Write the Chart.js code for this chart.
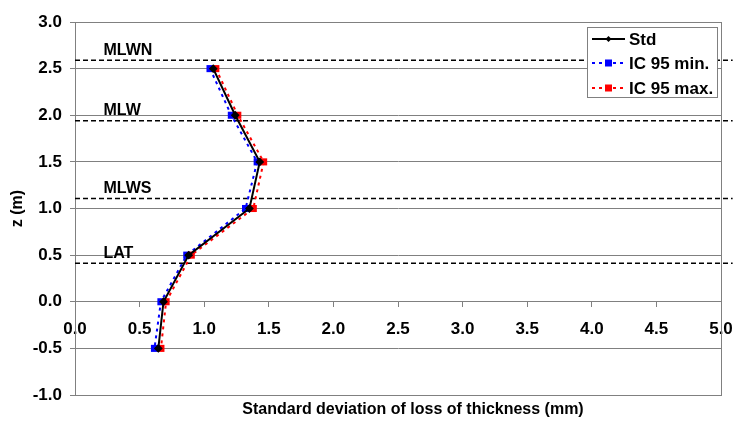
<!DOCTYPE html>
<html>
<head>
<meta charset="utf-8">
<script src="https://cdn.jsdelivr.net/npm/chart.js@4"></script>
<style>
  html, body { margin: 0; padding: 0; background: #fff; }
  #wrap { width: 733px; height: 432px; }
</style>
</head>
<body>
<div id="wrap"><canvas id="chart" width="733" height="432"></canvas></div>
<script>
// depth levels (m) and std deviation of loss of thickness (mm)
const zLevels = [2.5, 2.0, 1.5, 1.0, 0.5, 0.0, -0.5];
const stdValues = [1.07, 1.24, 1.43, 1.35, 0.88, 0.685, 0.645];
const icMinValues = [1.045, 1.21, 1.41, 1.32, 0.865, 0.665, 0.615];
const icMaxValues = [1.09, 1.26, 1.46, 1.38, 0.90, 0.705, 0.665];

// tide levels
const tideNames = ['MLWN', 'MLW', 'MLWS', 'LAT'];
const tideLevels = [2.59, 1.94, 1.107, 0.414];
const tideLineX = [0, 5.09];

const xTitle = 'Standard deviation of loss of thickness (mm)';

const FONT = '"Liberation Sans", Arial, sans-serif';
const GRAY = '#808080';

function pts(xs) {
  return xs.map((x, i) => ({ x: x, y: zLevels[i] }));
}

const tideSets = tideLevels.map((lv, i) => ({
  label: tideNames[i],
  data: tideLineX.map(x => ({ x: x, y: lv })),
  showLine: true,
  borderColor: '#000',
  borderWidth: 1.5,
  borderDash: [5, 3],
  pointRadius: 0,
  clip: false
}));

// text labels for tide lines, x title, legend box
const extras = {
  id: 'extras',
  afterDatasetsDraw(chart) {
    const ctx = chart.ctx;
    const xs = chart.scales.x, ys = chart.scales.y;
    const a = chart.chartArea;
    ctx.save();
    ctx.font = 'bold 16px ' + FONT;
    ctx.fillStyle = '#000';
    ctx.textBaseline = 'middle';
    ctx.textAlign = 'left';
    tideNames.forEach((n, i) => {
      ctx.fillText(n, xs.getPixelForValue(0.22), ys.getPixelForValue(tideLevels[i]) - 10);
    });

    ctx.textAlign = 'center';
    ctx.fillText(xTitle, (a.left + a.right) / 2 + 15, 410);
    ctx.textAlign = 'left';

    // legend
    ctx.font = 'bold 17px ' + FONT;
    const lx = 587.5, ly = 27.5, lw = 130, lh = 70;
    ctx.fillStyle = '#fff';
    ctx.fillRect(lx, ly, lw, lh);
    ctx.strokeStyle = GRAY;
    ctx.lineWidth = 1;
    ctx.strokeRect(lx, ly, lw, lh);
    const items = [
      { t: 'Std', c: '#000', dash: [], w: 2, m: 'diamond' },
      { t: 'IC 95 min.', c: '#0000ff', dash: [3, 4], w: 2, m: 'square' },
      { t: 'IC 95 max.', c: '#ff0000', dash: [3, 4], w: 2, m: 'square' }
    ];
    const rows = [39, 63, 88];
    items.forEach((it, i) => {
      const y = rows[i];
      ctx.strokeStyle = it.c;
      ctx.fillStyle = it.c;
      ctx.lineWidth = it.w;
      ctx.setLineDash(it.dash);
      ctx.beginPath();
      ctx.moveTo(592, y);
      ctx.lineTo(625, y);
      ctx.stroke();
      ctx.setLineDash([]);
      if (it.m === 'diamond') {
        ctx.beginPath();
        ctx.moveTo(608.5, y - 3);
        ctx.lineTo(611.5, y);
        ctx.lineTo(608.5, y + 3);
        ctx.lineTo(605.5, y);
        ctx.closePath();
        ctx.fill();
      } else {
        ctx.fillRect(605, y - 3.5, 7, 7);
      }
      ctx.fillStyle = '#000';
      ctx.fillText(it.t, 629, y + 1);
    });
    ctx.restore();
  }
};

const border = {
  id: 'border',
  beforeDatasetsDraw(chart) {
    const a = chart.chartArea, ctx = chart.ctx;
    ctx.save();
    ctx.strokeStyle = GRAY;
    ctx.lineWidth = 1;
    ctx.strokeRect(Math.round(a.left) + 0.5, Math.round(a.top) + 0.5,
      Math.round(a.right - a.left), Math.round(a.bottom - a.top));
    ctx.restore();
  }
};

function noPad(s) {
  s.paddingLeft = 0;
  s.paddingRight = 0;
}

new Chart(document.getElementById('chart'), {
  type: 'scatter',
  data: {
    datasets: [
      {
        label: 'Std',
        data: pts(stdValues),
        showLine: true,
        borderColor: '#000',
        backgroundColor: '#000',
        borderWidth: 2,
        pointStyle: 'rectRot',
        pointRadius: 3
      },
      {
        label: 'IC 95 max.',
        data: pts(icMaxValues),
        showLine: true,
        borderColor: '#ff0000',
        backgroundColor: '#ff0000',
        borderWidth: 2,
        borderDash: [3, 4],
        pointStyle: 'rect',
        pointRadius: 5,
        pointBorderWidth: 0
      },
      {
        label: 'IC 95 min.',
        data: pts(icMinValues),
        showLine: true,
        borderColor: '#0000ff',
        backgroundColor: '#0000ff',
        borderWidth: 2,
        borderDash: [3, 4],
        pointStyle: 'rect',
        pointRadius: 5,
        pointBorderWidth: 0
      },
      ...tideSets
    ]
  },
  options: {
    responsive: false,
    animation: false,
    layout: { padding: { top: 22, right: 12, left: 0, bottom: 0 } },
    plugins: { legend: { display: false }, tooltip: { enabled: false } },
    scales: {
      x: {
        type: 'linear',
        position: 'bottom',
        min: 0, max: 5,
        grid: { display: false },
        border: { display: false },
        ticks: { display: false },
        afterFit(s) { s.height = 37; noPad(s); }
      },
      xz: {
        type: 'linear',
        position: { y: 0 },
        min: 0, max: 5,
        grid: { display: true, drawOnChartArea: false, drawTicks: true, tickLength: 5, color: GRAY },
        border: { display: true, color: GRAY },
        ticks: {
          stepSize: 0.5,
          padding: 12,
          color: '#000',
          maxRotation: 0,
          font: { family: FONT, size: 17, weight: 'bold' },
          callback: v => v.toFixed(1)
        },
        afterFit(s) { noPad(s); }
      },
      y: {
        type: 'linear',
        min: -1, max: 3,
        grid: { color: GRAY, lineWidth: 1, tickLength: 5 },
        border: { display: true, color: GRAY },
        ticks: {
          stepSize: 0.5,
          padding: 8,
          color: '#000',
          font: { family: FONT, size: 17, weight: 'bold' },
          callback: v => v.toFixed(1)
        },
        title: {
          display: true,
          text: 'z (m)',
          color: '#000',
          font: { family: FONT, size: 16, weight: 'bold' },
          padding: { top: 8, bottom: 0 }
        },
        afterFit(s) { s.width = 75; }
      }
    }
  },
  plugins: [border, extras]
});
</script>
</body>
</html>
